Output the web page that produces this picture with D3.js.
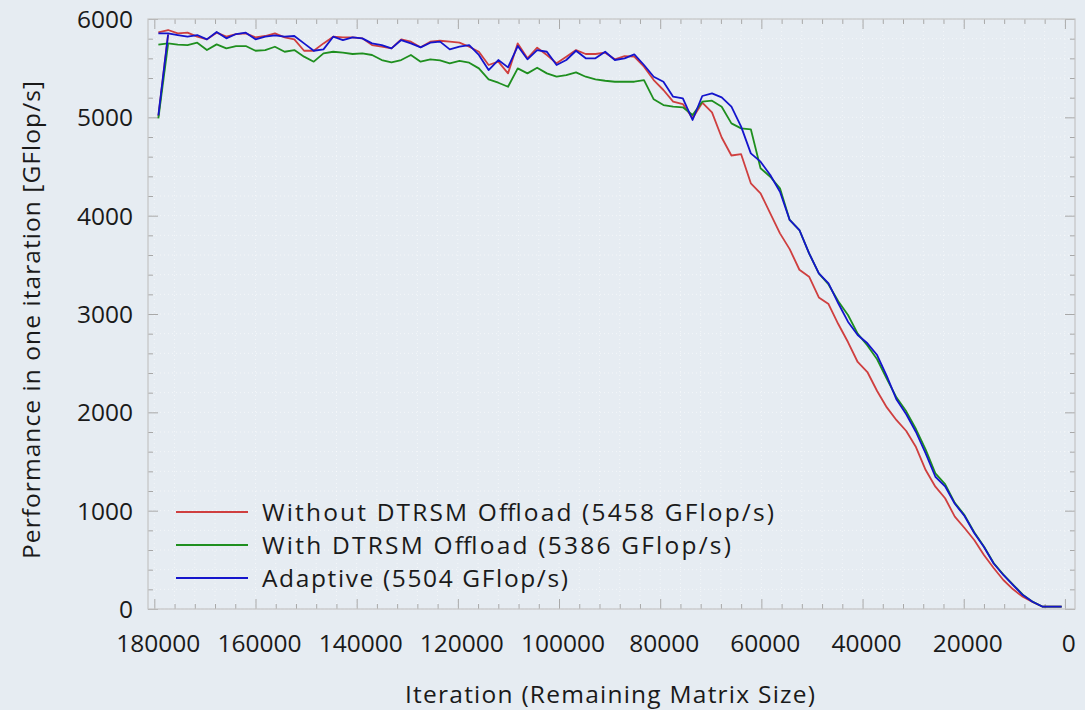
<!DOCTYPE html>
<html>
<head>
<meta charset="utf-8">
<script src="https://cdn.jsdelivr.net/npm/d3@7"></script>
<style>
  html, body { margin: 0; padding: 0; background: #e6ecf2; }
  svg { display: block; }
  text { font-family: "Open Sans", Lato, sans-serif; fill: #1a1a1a; }
</style>
</head>
<body>
<svg id="chart" width="1085" height="710"></svg>
<script>
// Remaining matrix size at each iteration (block size 1920)
const remaining = [
  179200, 177280, 175360, 173440, 171520, 169600, 167680, 165760, 163840, 161920,
  160000, 158080, 156160, 154240, 152320, 150400, 148480, 146560, 144640, 142720,
  140800, 138880, 136960, 135040, 133120, 131200, 129280, 127360, 125440, 123520,
  121600, 119680, 117760, 115840, 113920, 112000, 110080, 108160, 106240, 104320,
  102400, 100480, 98560, 96640, 94720, 92800, 90880, 88960, 87040, 85120,
  83200, 81280, 79360, 77440, 75520, 73600, 71680, 69760, 67840, 65920,
  64000, 62080, 60160, 58240, 56320, 54400, 52480, 50560, 48640, 46720,
  44800, 42880, 40960, 39040, 37120, 35200, 33280, 31360, 29440, 27520,
  25600, 23680, 21760, 19840, 17920, 16000, 14080, 12160, 10240, 8320,
  6400, 4480, 2560, 640
];

// GFlop/s per iteration
const withoutOffload = [
  5864, 5888, 5854, 5861, 5820, 5793, 5861, 5820, 5847, 5854,
  5813, 5827, 5854, 5813, 5793, 5677, 5677, 5752, 5820, 5813,
  5813, 5803, 5735, 5718, 5701, 5793, 5769, 5712, 5769, 5779,
  5769, 5759, 5718, 5667, 5532, 5566, 5447, 5752, 5600, 5708,
  5634, 5549, 5617, 5684, 5644, 5644, 5657, 5590, 5623, 5617,
  5515, 5379, 5278, 5159, 5135, 4990, 5149, 5050, 4795, 4612,
  4625, 4329, 4227, 4024, 3820, 3660, 3450, 3379, 3168, 3101,
  2898, 2715, 2512, 2410, 2217, 2050, 1920, 1810, 1647, 1413,
  1244, 1126, 939, 824, 702, 549, 417, 295, 200, 125,
  71, 25, 25, 25
];
const withOffload = [
  5739, 5752, 5739, 5735, 5759, 5684, 5742, 5701, 5725, 5725,
  5677, 5684, 5718, 5667, 5684, 5617, 5566, 5651, 5667, 5657,
  5644, 5651, 5634, 5583, 5559, 5583, 5634, 5566, 5590, 5580,
  5549, 5573, 5556, 5498, 5386, 5352, 5311, 5498, 5447, 5505,
  5447, 5413, 5430, 5457, 5413, 5386, 5372, 5362, 5362, 5362,
  5379, 5183, 5125, 5108, 5102, 5023, 5159, 5169, 5108, 4939,
  4888, 4878, 4482, 4396, 4278, 3956, 3854, 3617, 3414, 3300,
  3130, 2990, 2800, 2680, 2540, 2340, 2150, 2010, 1830, 1620,
  1380, 1270, 1080, 955, 780, 635, 468, 350, 248, 145,
  75, 25, 25, 25
];
const adaptive = [
  5854, 5854, 5837, 5820, 5837, 5793, 5868, 5803, 5847, 5861,
  5793, 5820, 5834, 5820, 5827, 5752, 5677, 5691, 5820, 5786,
  5813, 5803, 5752, 5735, 5701, 5786, 5752, 5712, 5759, 5770,
  5691, 5718, 5735, 5634, 5481, 5583, 5508, 5725, 5590, 5684,
  5667, 5532, 5583, 5677, 5600, 5600, 5667, 5583, 5600, 5641,
  5532, 5413, 5362, 5210, 5193, 4973, 5217, 5244, 5203, 5108,
  4905, 4634, 4549, 4413, 4244, 3956, 3854, 3617, 3414, 3312,
  3109, 2922, 2786, 2702, 2583, 2369, 2130, 1980, 1800, 1583,
  1345, 1248, 1070, 946, 773, 630, 463, 346, 244, 142,
  74, 25, 25, 25
];

// First (warm-up) iteration, drawn as its own short segment
const warmupRemaining = [179200, 177280];
const warmupWithout = [5010, 5845];
const warmupWith = [4990, 5745];
const warmupAdaptive = [5020, 5840];

const seriesNames = [
  "Without DTRSM Offload (5458 GFlop/s)",
  "With DTRSM Offload (5386 GFlop/s)",
  "Adaptive (5504 GFlop/s)"
];
const seriesColors = ["#cf3f3f", "#1f8f1f", "#1414cc"];

const xMajorTicks = [180000, 160000, 140000, 120000, 100000, 80000, 60000, 40000, 20000, 0];
const yMajorTicks = [0, 1000, 2000, 3000, 4000, 5000, 6000];

const svg = d3.select("#chart");
const plotLeft = 148, plotRight = 1075, plotTop = 19, plotBottom = 609;

const x = d3.scaleLinear().domain([181250, -2000]).range([plotLeft, plotRight]);
const y = d3.scaleLinear().domain([0, 6000]).range([plotBottom, plotTop]);

const xMinor = d3.range(0, 180001, 4000);
const yMinor = d3.range(0, 6001, 200);

// faint dotted grid
const grid = svg.append("g").attr("stroke", "#ffffff").attr("stroke-opacity", 0.55)
  .attr("stroke-dasharray", "1,3").attr("stroke-width", 1);
grid.selectAll("line.gx").data(xMinor).join("line")
  .attr("x1", d => x(d)).attr("x2", d => x(d)).attr("y1", plotTop).attr("y2", plotBottom);
grid.selectAll("line.gy").data(yMinor).join("line")
  .attr("x1", plotLeft).attr("x2", plotRight).attr("y1", d => y(d)).attr("y2", d => y(d));

// ticks on all four sides, pointing inward
function tickGroup(axisGen, tx, ty) {
  const g = svg.append("g").attr("transform", `translate(${tx},${ty})`).call(axisGen);
  g.select(".domain").remove();
  g.selectAll("text").remove();
  g.selectAll("line").attr("stroke", "#a8a8a8").attr("stroke-width", 1);
  return g;
}
const xMinorOnly = xMinor.filter(v => !xMajorTicks.includes(v));
const yMinorOnly = yMinor.filter(v => !yMajorTicks.includes(v));

tickGroup(d3.axisBottom(x).tickValues(xMajorTicks).tickSize(-10), 0, plotBottom);
tickGroup(d3.axisBottom(x).tickValues(xMinorOnly).tickSize(-5), 0, plotBottom);
tickGroup(d3.axisTop(x).tickValues(xMajorTicks).tickSize(-10), 0, plotTop);
tickGroup(d3.axisTop(x).tickValues(xMinorOnly).tickSize(-5), 0, plotTop);
tickGroup(d3.axisLeft(y).tickValues(yMajorTicks).tickSize(-10), plotLeft, 0);
tickGroup(d3.axisLeft(y).tickValues(yMinorOnly).tickSize(-5), plotLeft, 0);
tickGroup(d3.axisRight(y).tickValues(yMajorTicks).tickSize(-10), plotRight, 0);
tickGroup(d3.axisRight(y).tickValues(yMinorOnly).tickSize(-5), plotRight, 0);

// frame
svg.append("rect").attr("x", plotLeft).attr("y", plotTop)
  .attr("width", plotRight - plotLeft).attr("height", plotBottom - plotTop)
  .attr("fill", "none").attr("stroke", "#c4c4c4").attr("stroke-width", 1.2);

// tick labels
svg.append("g").selectAll("text").data(xMajorTicks).join("text")
  .attr("x", d => x(d) + 4).attr("y", 652)
  .attr("text-anchor", "middle").attr("font-size", 24.5)
  .text(d => d);
svg.append("g").selectAll("text").data(yMajorTicks).join("text")
  .attr("x", 133).attr("y", d => y(d) + 9)
  .attr("text-anchor", "end").attr("font-size", 24.5)
  .text(d => d);

// axis titles (spread to the width of the original typeset labels)
svg.append("text").attr("x", 610).attr("y", 703)
  .attr("text-anchor", "middle").attr("font-size", 24.5)
  .attr("textLength", 410).attr("lengthAdjust", "spacing")
  .text("Iteration (Remaining Matrix Size)");
svg.append("text")
  .attr("transform", "translate(40,320) rotate(-90)")
  .attr("text-anchor", "middle").attr("font-size", 24.5)
  .attr("textLength", 478).attr("lengthAdjust", "spacing")
  .text("Performance in one itaration [GFlop/s]");

// lines
const line = d3.line().x(d => x(d[0])).y(d => y(d[1]));
const seriesValues = [withoutOffload, withOffload, adaptive];
const warmups = [warmupWithout, warmupWith, warmupAdaptive];
const plot = svg.append("g");
seriesValues.forEach((vals, i) => {
  plot.append("path")
    .datum(warmupRemaining.map((r, j) => [r, warmups[i][j]]))
    .attr("d", line).attr("fill", "none")
    .attr("stroke", seriesColors[i]).attr("stroke-width", 1.8);
  plot.append("path")
    .datum(remaining.map((r, j) => [r, vals[j]]))
    .attr("d", line).attr("fill", "none")
    .attr("stroke", seriesColors[i]).attr("stroke-width", 1.8)
    .attr("stroke-linejoin", "round");
});

// legend
const legend = svg.append("g");
const rowY = [512, 545, 578];
const legendWidths = [512, 469, 306];
seriesNames.forEach((name, i) => {
  legend.append("line").attr("x1", 176).attr("x2", 248)
    .attr("y1", rowY[i]).attr("y2", rowY[i])
    .attr("stroke", seriesColors[i]).attr("stroke-width", 1.8);
  legend.append("text").attr("x", 262).attr("y", rowY[i] + 9)
    .attr("font-size", 24.5)
    .attr("textLength", legendWidths[i]).attr("lengthAdjust", "spacing")
    .text(name);
});
</script>
</body>
</html>
